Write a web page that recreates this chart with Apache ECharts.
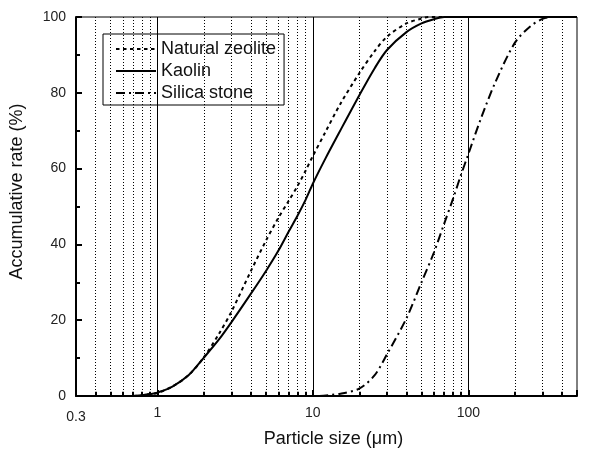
<!DOCTYPE html>
<html>
<head>
<meta charset="utf-8">
<script src="https://cdn.jsdelivr.net/npm/echarts@6/dist/echarts.min.js"></script>
<style>html,body{margin:0;padding:0;background:#fff}#c{width:600px;height:459px}</style>
</head>
<body>
<div id="c"></div>
<script>
const zeoliteX = [0.7,0.8,0.9,1,1.25,1.6,2,2.5,3,4,5,6,7,8,9,10,12,15,20,25,30,40,50,55,60,100,500];
const zeoliteY = [0,0.2,0.5,0.8,2.5,5.6,10.3,16.5,22.3,33,41,47,51.5,55.5,59.5,63.3,69.5,77,85.3,91,94.8,98.3,99.6,100,100,100,100];
const kaolinX = [0.7,0.8,0.9,1,1.25,1.6,2,2.5,3,4,5,6,7,8,9,10,12,15,20,25,30,40,50,60,70,100,200,500];
const kaolinY = [0,0.2,0.5,0.9,2.5,5.6,10.2,15,19.5,27,33,38.3,43.4,47.7,51.8,56,62.5,70,79.5,86.5,91.3,96,98.3,99.4,100,100,100,100];
const silicaX = [11,15,20,25,30,40,50,60,70,80,90,100,120,150,200,250,300,350,500];
const silicaY = [0,0.6,2,5.5,11,20.5,30,37.8,45.5,52.2,58.5,63.8,73,83,93.3,97.5,99.5,100,100];
const minorGridX = [0.4,0.5,0.6,0.7,0.8,0.9,2,3,4,5,6,7,8,9,20,30,40,50,60,70,80,90,200,300,400];
const majorGridX = [1,10,100];
const xTickLabels = ['0.3','1','10','100'];
const yTicks = [0,20,40,60,80,100];

const pair = (xs, ys) => xs.map((x, i) => [x, ys[i]]);
const font = '"Liberation Sans", Arial, sans-serif';
const chart = echarts.init(document.getElementById('c'), null, {renderer: 'canvas'});

const gridLines = minorGridX.map(v => ({xAxis: v, lineStyle: {type: [1, 2], width: 1, color: '#000'}}))
  .concat(majorGridX.map(v => ({xAxis: v, lineStyle: {type: 'solid', width: 1, color: '#000'}})));
const minorTicks = minorGridX.map(v => [
  {coord: [v, 0], lineStyle: {type: 'solid', width: 2, color: '#000'}},
  {coord: [v, 1.1]}
]);

chart.setOption({
  backgroundColor: '#fff',
  animation: false,
  grid: {left: 74, top: 17, right: 23, bottom: 63, show: true, borderColor: '#000', borderWidth: 1, backgroundColor: 'transparent'},
  legend: {
    orient: 'vertical', left: 103, top: 34, padding: [6, 8, 3, 12],
    borderColor: '#000', borderWidth: 1, backgroundColor: '#fff', borderRadius: 0,
    itemWidth: 40, itemHeight: 14, itemGap: 4,
    itemStyle: {opacity: 0},
    textStyle: {fontFamily: font, fontSize: 18, color: '#111'},
    data: ['Natural zeolite', 'Kaolin', 'Silica stone']
  },
  xAxis: {
    type: 'log', logBase: 10, min: 0.3, max: 500,
    name: 'Particle size (\u03bcm)', nameLocation: 'middle', nameGap: 34,
    nameTextStyle: {fontFamily: font, fontSize: 18, color: '#111', padding: [0, 0, 0, 14]},
    axisLine: {show: true, onZero: false, lineStyle: {color: '#000', width: 2}},
    axisTick: {show: true, inside: true, length: 6, lineStyle: {color: '#000', width: 2}},
    splitLine: {show: false},
    axisLabel: {
      fontFamily: font, fontSize: 14, color: '#222', margin: 10,
      formatter: function (v) {
        const s = String(Math.round(v * 10) / 10);
        if (s === '0.3') return '{low|0.3}';
        return xTickLabels.indexOf(s) >= 0 ? s : '';
      },
      rich: {low: {fontFamily: font, fontSize: 14, color: '#222', padding: [4, 0, 0, 0]}}
    }
  },
  yAxis: {
    type: 'value', min: 0, max: 100, interval: 20,
    name: 'Accumulative rate (%)', nameLocation: 'middle', nameGap: 50,
    nameTextStyle: {fontFamily: font, fontSize: 18, color: '#111', padding: [0, 0, 0, 30]},
    axisLine: {show: true, lineStyle: {color: '#000', width: 2}},
    axisTick: {show: true, inside: true, length: 6, lineStyle: {color: '#000', width: 2}},
    minorTick: {show: true, splitNumber: 2, length: 4, lineStyle: {color: '#000', width: 2}},
    splitLine: {show: false},
    axisLabel: {fontFamily: font, fontSize: 14, color: '#222', margin: 10,
      formatter: v => (yTicks.indexOf(v) >= 0 ? String(v) : '')}
  },
  series: [
    {
      name: 'Natural zeolite', type: 'line', data: pair(zeoliteX, zeoliteY),
      symbol: 'none', smooth: 0.3, z: 5,
      lineStyle: {color: '#000', width: 2, type: [3.5, 3.5]},
      itemStyle: {color: '#000'},
      markLine: {silent: true, symbol: ['none', 'none'], label: {show: false}, animation: false,
        data: gridLines.concat(minorTicks)}
    },
    {
      name: 'Kaolin', type: 'line', data: pair(kaolinX, kaolinY),
      symbol: 'none', smooth: 0.3, z: 5,
      lineStyle: {color: '#000', width: 2, type: 'solid'},
      itemStyle: {color: '#000'}
    },
    {
      name: 'Silica stone', type: 'line', data: pair(silicaX, silicaY),
      symbol: 'none', smooth: 0.3, z: 5,
      lineStyle: {color: '#000', width: 2, type: [9, 4, 2, 4]},
      itemStyle: {color: '#000'}
    }
  ]
});
</script>
</body>
</html>
